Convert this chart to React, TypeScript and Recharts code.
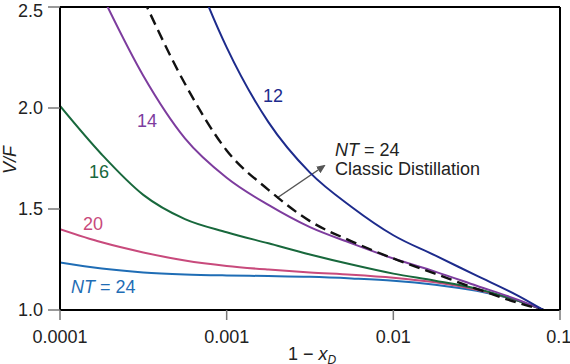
import React from "react";
import {
  LineChart,
  Line,
  XAxis,
  YAxis,
  ReferenceLine,
} from "recharts";

// 1 - xD sample points (quarter decades on the log axis)
const xs = [0.0001, 0.000178, 0.000316, 0.000562, 0.001, 0.00178, 0.00316, 0.00562, 0.01, 0.0178, 0.0316, 0.0562, 0.0794];

// V/F for each number of stages
const nt12 = [null, null, 3.4, 2.8, 2.3, 1.93, 1.68, 1.51, 1.37, 1.27, 1.17, 1.07, 1.0];
const nt14 = [null, 2.56, 2.16, 1.85, 1.655, 1.52, 1.41, 1.33, 1.255, 1.19, 1.12, 1.05, 1.0];
const classic24 = [null, 3.0, 2.54, 2.12, 1.79, 1.595, 1.44, 1.34, 1.255, 1.18, 1.105, 1.035, 1.0];
const nt16 = [2.01, 1.77, 1.57, 1.45, 1.385, 1.33, 1.275, 1.225, 1.18, 1.145, 1.105, 1.045, 1.0];
const nt20 = [1.4, 1.335, 1.285, 1.245, 1.218, 1.2, 1.186, 1.175, 1.16, 1.137, 1.1, 1.045, 1.0];
const nt24 = [1.235, 1.205, 1.186, 1.176, 1.171, 1.168, 1.164, 1.156, 1.145, 1.125, 1.095, 1.045, 1.0];

const xTicks = [0.0001, 0.001, 0.01, 0.1];
const yTicks = [1.0, 1.5, 2.0, 2.5];

const data = xs.map((x, i) => ({
  x,
  nt12: nt12[i],
  nt14: nt14[i],
  classic24: classic24[i],
  nt16: nt16[i],
  nt20: nt20[i],
  nt24: nt24[i],
}));

const FONT = "'Liberation Sans', Arial, Helvetica, sans-serif";

export default function App() {
  return (
    <div style={{ position: "absolute", left: 0, top: 0, background: "#fff", fontFamily: FONT }}>
      <LineChart
        width={570}
        height={364}
        data={data}
        margin={{ top: 7, right: 10, bottom: 0, left: 0 }}
      >
        <defs>
          <marker id="arrowHead" markerWidth="9" markerHeight="8" refX="7" refY="4" orient="auto" markerUnits="userSpaceOnUse">
            <path d="M0,0 L9,4 L0,8 Z" fill="#555" />
          </marker>
        </defs>

        <XAxis
          dataKey="x"
          type="number"
          scale="log"
          domain={[0.0001, 0.1]}
          ticks={xTicks}
          allowDataOverflow
          height={54}
          axisLine={{ stroke: "#000", strokeWidth: 2 }}
          tickLine={{ stroke: "#777", strokeWidth: 1.5 }}
          tickSize={10}
          tickMargin={10}
          tick={{ fill: "#222", fontSize: 18, fontFamily: FONT }}
          tickFormatter={(v) => String(v)}
        />
        <YAxis
          type="number"
          domain={[1, 2.5]}
          ticks={yTicks}
          allowDataOverflow
          width={60}
          axisLine={{ stroke: "#000", strokeWidth: 2 }}
          tickLine={{ stroke: "#777", strokeWidth: 1.5 }}
          tickSize={12}
          tickMargin={5}
          tick={{ fill: "#222", fontSize: 18, fontFamily: FONT }}
          tickFormatter={(v) => v.toFixed(1)}
        />

        <ReferenceLine y={2.5} stroke="#000" strokeWidth={2} />
        <ReferenceLine x={0.1} stroke="#000" strokeWidth={2} />

        <Line dataKey="nt24" type="monotone" stroke="#1f6db5" strokeWidth={2} dot={false} isAnimationActive={false} />
        <Line dataKey="nt20" type="monotone" stroke="#c84a7c" strokeWidth={2} dot={false} isAnimationActive={false} />
        <Line dataKey="nt16" type="monotone" stroke="#18683c" strokeWidth={2} dot={false} isAnimationActive={false} />
        <Line dataKey="nt14" type="monotone" stroke="#7d3c9e" strokeWidth={2} dot={false} isAnimationActive={false} />
        <Line dataKey="classic24" type="monotone" stroke="#111" strokeWidth={2.4} strokeDasharray="11 6" dot={false} isAnimationActive={false} />
        <Line dataKey="nt12" type="monotone" stroke="#1d2b8c" strokeWidth={2} dot={false} isAnimationActive={false} />

        <g fontFamily={FONT} fontSize={18}>
          <text x={263} y={102} fill="#1d2b8c">12</text>
          <text x={137} y={127} fill="#7d3c9e">14</text>
          <text x={89} y={178} fill="#18683c">16</text>
          <text x={83} y={230} fill="#c84a7c">20</text>
          <text x={71} y={293} fill="#1f6db5">
            <tspan fontStyle="italic">NT</tspan> = 24
          </text>
          <text x={335} y={156} fill="#222">
            <tspan fontStyle="italic">NT</tspan> = 24
          </text>
          <text x={335} y={175} fill="#222">Classic Distillation</text>
          <line x1={277} y1={198} x2={324} y2={166} stroke="#555" strokeWidth={1.5} markerEnd="url(#arrowHead)" />
          <text x={16} y={160} fill="#222" fontStyle="italic" textAnchor="middle" transform="rotate(-90 16 160)">V/F</text>
          <text x={288} y={360} fill="#222">
            1 − <tspan fontStyle="italic">x</tspan>
            <tspan fontStyle="italic" fontSize={12} dy={4}>D</tspan>
          </text>
        </g>
      </LineChart>
    </div>
  );
}
